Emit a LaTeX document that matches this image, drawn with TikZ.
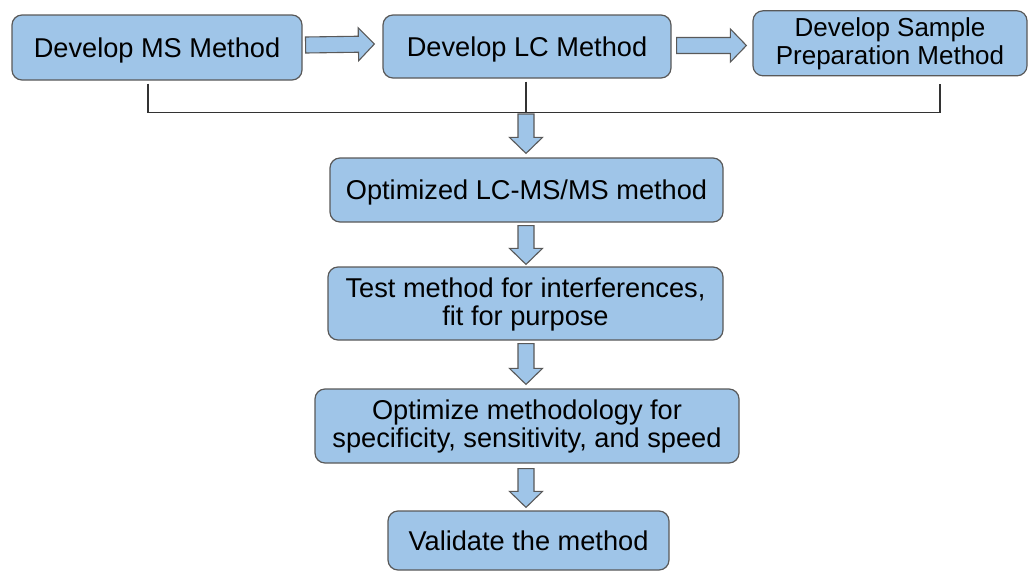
\documentclass[tikz,border=0pt]{standalone}
\usepackage{fontspec}
\setmainfont{Liberation Sans}
\usetikzlibrary{calc}
\definecolor{boxfill}{HTML}{9FC5E8}
\definecolor{boxline}{HTML}{595959}
\definecolor{joinline}{HTML}{333333}
\tikzset{
  stepbox/.style={draw=boxline, fill=boxfill, line width=1.2pt, rounded corners=10pt,
    align=center, inner sep=0pt, font=\fontsize{27.2}{28}\selectfont},
  oneline/.style={text height=25.6pt, text depth=6pt},
  twolines/.style={text height=49.2pt, text depth=6pt},
  fatarr/.style={draw=boxline, fill=boxfill, line width=1.1pt, line join=miter},
  bracket/.style={draw=joinline, line width=1.7pt}
}
% block arrow from #1 to #2 (body half-width 8, head half-width 16.5, head length 16)
\newcommand\blockarrow[2]{%
  \path[fatarr] let \p1=(#1), \p2=(#2),
      \n1={atan2(\y2-\y1,\x2-\x1)}, \n2={veclen(\x2-\x1,\y2-\y1)} in
    [shift={(\p1)}, rotate=\n1]
    (0,-8) -- ({\n2-16},-8) -- ({\n2-16},-16.5) -- (\n2,0) --
    ({\n2-16},16.5) -- ({\n2-16},8) -- (0,8) -- cycle;}
\begin{document}
\begin{tikzpicture}[x=1pt,y=1pt]
\useasboundingbox (0,0) rectangle (1029,-571);

\node[stepbox, oneline, minimum width=290, minimum height=65] (b1) at (157,-47.5) {Develop MS Method};
\node[stepbox, oneline, minimum width=288, minimum height=63] (b2) at (527,-46.5) {Develop LC Method};
\node[stepbox, twolines, minimum width=274, minimum height=65, font=\fontsize{26}{28.5}\selectfont] (b3) at (890,-43.3) {Develop Sample\\Preparation Method};
\node[stepbox, oneline, minimum width=393, minimum height=64] (b4) at (526.5,-190) {Optimized LC-MS/MS method};
\node[stepbox, twolines, minimum width=395, minimum height=73] (b5) at (525.5,-303.5) {Test method for interferences,\\fit for purpose};
\node[stepbox, twolines, minimum width=424, minimum height=74] (b6) at (527,-426) {Optimize methodology for\\specificity, sensitivity, and speed};
\node[stepbox, oneline, minimum width=281, minimum height=59] (b7) at (528.5,-540.5) {Validate the method};

% joining bracket under the first row
\coordinate (jl) at (148,-112.5);
\coordinate (jr) at (940,-112.5);
\coordinate (jm) at (526,-112.5);
\draw[bracket] ($(b1.south -| jl)+(0,-3)$) -- (jl) -- (jr) -- ($(b3.south -| jr)+(0,-8)$);
\draw[bracket] ($(b2.south -| jm)+(0,-3)$) -- (jm);

% block arrows
\coordinate (h1s) at ($(b1.east)+(3,2.5)$);
\coordinate (h1e) at ($(b2.west)+(-8,2.5)$);
\blockarrow{h1s}{h1e}
\coordinate (h2s) at ($(b2.east)+(5,1)$);
\coordinate (h2e) at ($(b3.west)+(-6,-2.2)$);
\blockarrow{h2s}{h2e}
\coordinate (v1s) at ($(jm)+(0,-1.5)$);
\coordinate (v1e) at ($(b4.north -| jm)+(0,4)$);
\blockarrow{v1s}{v1e}
\coordinate (v2s) at ($(b4.south -| jm)+(0,-3)$);
\coordinate (v2e) at ($(b5.north -| jm)+(0,2)$);
\blockarrow{v2s}{v2e}
\coordinate (v3s) at ($(b5.south -| jm)+(0,-3)$);
\coordinate (v3e) at ($(b6.north -| jm)+(0,4)$);
\blockarrow{v3s}{v3e}
\coordinate (v4s) at ($(b6.south -| jm)+(0,-5)$);
\coordinate (v4e) at ($(b7.north -| jm)+(0,3)$);
\blockarrow{v4s}{v4e}
\end{tikzpicture}
\end{document}
